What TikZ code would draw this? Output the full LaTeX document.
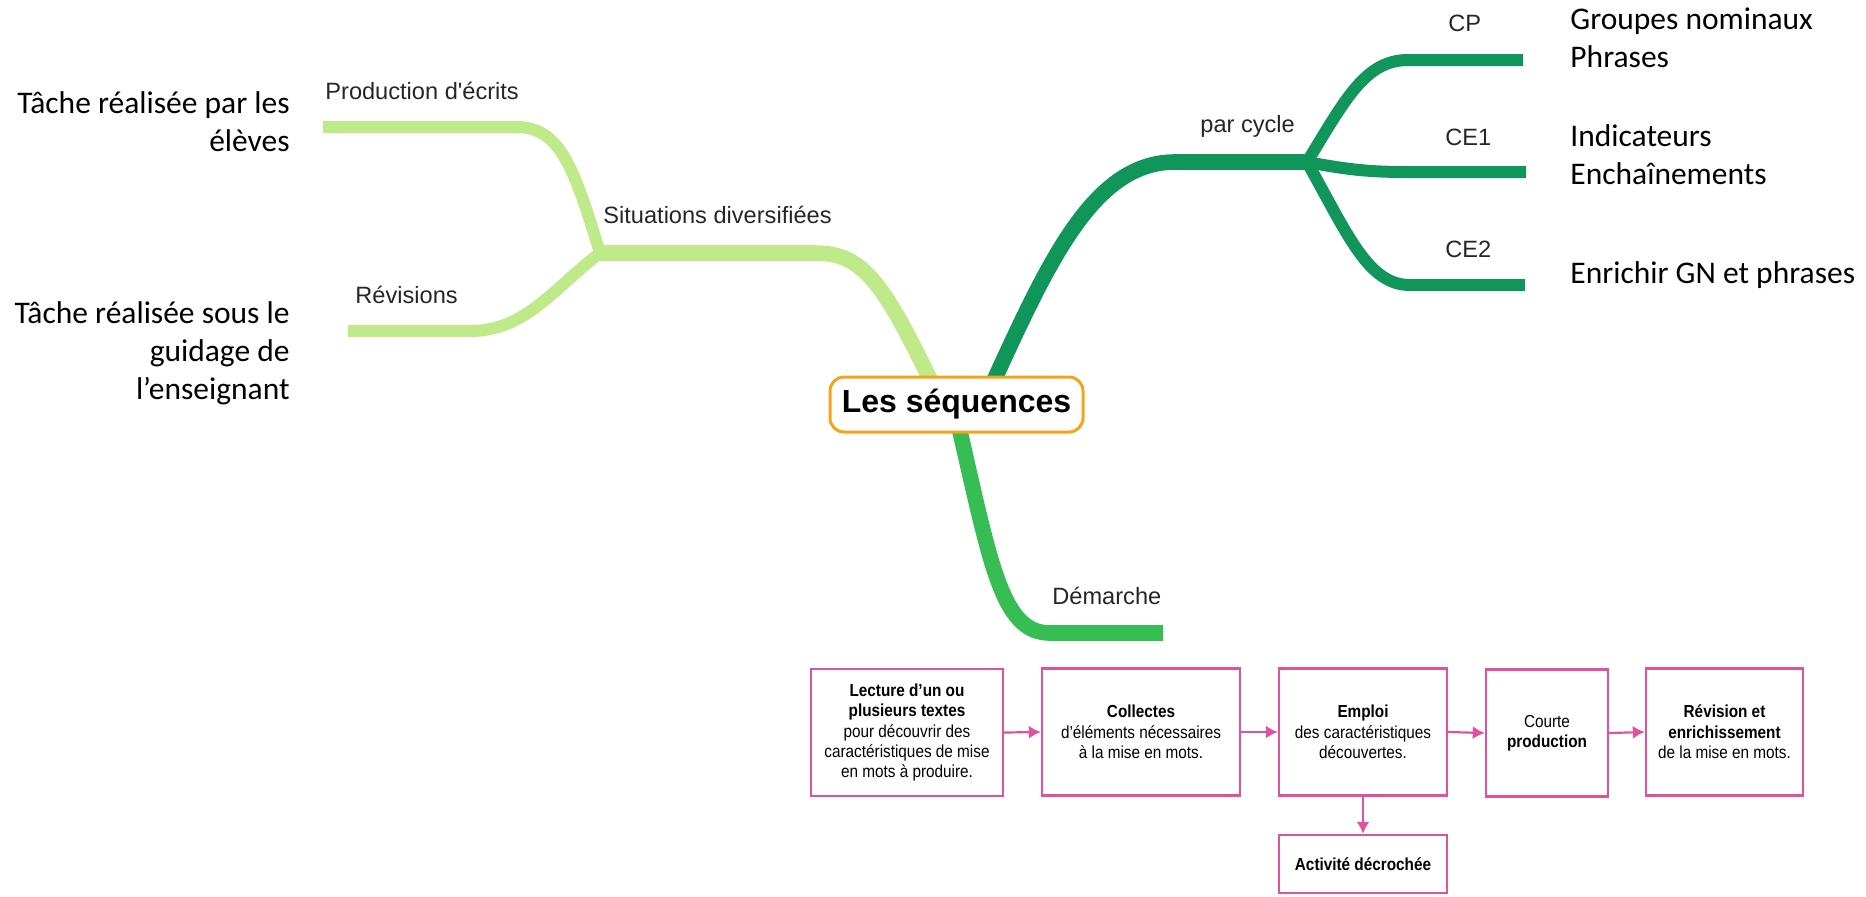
\documentclass[tikz,border=0pt]{standalone}
\usepackage{fontspec}
\setmainfont{Liberation Sans}
\newfontfamily\calib{Carlito}
\newfontfamily\narrowf[FakeStretch=0.88]{Liberation Sans}
\usetikzlibrary{calc,arrows.meta}
\definecolor{vertclair}{RGB}{192,233,138}
\definecolor{vertfonce}{RGB}{16,150,90}
\definecolor{vertmoyen}{RGB}{54,190,85}
\definecolor{orangebord}{RGB}{247,162,27}
\definecolor{rose}{RGB}{224,82,156}
\tikzset{
  branche/.style={line width=6pt},
  tronc/.style={line width=7.8pt},
  etiq/.style={font=\fontsize{11.8}{14}\selectfont,text=black!85,inner sep=0pt,anchor=base west},
  note/.style={font=\calib\fontsize{15.75}{19}\selectfont,inner sep=0pt},
  boite/.style={draw=rose,line width=1.2pt,minimum height=63.5pt,align=center,
    font=\narrowf\fontsize{8.7}{10.2}\selectfont,inner sep=0pt},
  fleche/.style={draw=rose,line width=1.1pt,-{Latex[length=6pt,width=6.5pt]}}
}

\begin{document}
\begin{tikzpicture}[x=0.5pt,y=-0.5pt]
              \useasboundingbox (0,0) rectangle (1866,896);
              % points of the mind map
              \coordinate (jsit) at (600,253);
              \coordinate (jcyc) at (1307,162);
              \coordinate (eprod) at (323,127);
              \coordinate (erev) at (348,331);
              \coordinate (ecp) at (1523,60);
              \coordinate (ece1) at (1526,172);
              \coordinate (ece2) at (1525,285);
              \coordinate (edem) at (1163,633);
              % branches
              \draw[tronc,vertclair] (940,400) .. controls (885,285) and (865,253) .. (815,253) -- (jsit);
              \draw[branche,vertclair] (jsit) .. controls (572,160) and (558,127) .. (515,127) -- (eprod);
              \draw[branche,vertclair] (jsit) .. controls (552,290) and (525,331) .. (470,331) -- (erev);
              \draw[tronc,vertfonce] (985,400) .. controls (1045,270) and (1090,162) .. (1175,162) -- (jcyc);
              \draw[branche,vertfonce] (jcyc) .. controls (1345,100) and (1365,60) .. (1408,60) -- (ecp);
              \draw[branche,vertfonce] (jcyc) .. controls (1350,170) and (1370,172) .. (1408,172) -- (ece1);
              \draw[branche,vertfonce] (jcyc) .. controls (1348,235) and (1368,285) .. (1410,285) -- (ece2);
              \draw[tronc,vertmoyen] (955,410) .. controls (990,560) and (1000,633) .. (1050,633) -- (edem);
              \node[draw=orangebord,line width=1.5pt,rounded corners=7pt,fill=white,
                minimum width=126.5pt,minimum height=27.5pt,inner sep=0pt,
                font=\bfseries\fontsize{16}{19}\selectfont](seq)at(956.5,404.5){Les séquences};
              % labels on the branches
              \node[etiq](lprod)at(325,99){Production d\textquotesingle écrits};
              \node[etiq](lrev)at(355,303){Révisions};
              \node[etiq](lsit)at(603,223){Situations diversifiées};
              \node[etiq](lcyc)at(1200,132){par cycle};
              \node[etiq](lcp)at(1448,31){CP};
              \node[etiq](lce1)at(1445,145){CE1};
              \node[etiq](lce2)at(1445,257){CE2};
              \node[etiq](ldem)at(1052,604){Démarche};
              % notes (base = last line)
              \node[note,anchor=base east,align=right](tprod)at(290,151){Tâche réalisée par les\\élèves};
              \node[note,anchor=base east,align=right](tguid)at(290,399){Tâche réalisée sous le\\guidage de\\l’enseignant};
              \node[note,anchor=base west,align=left](tcp)at(1570,67){Groupes nominaux\\Phrases};
              \node[note,anchor=base west,align=left](tce1)at(1570,184){Indicateurs\\Enchaînements};
              \node[note,anchor=base west,align=left](tce2)at(1570,283){Enrichir GN et phrases};
              % the steps
              \node[boite,minimum width=96pt](lect)at(907,732.5){\bfseries Lecture d’un ou\\\bfseries plusieurs textes\\pour découvrir des\\caractéristiques de mise\\en mots à produire.};
              \node[boite,minimum width=99pt](coll)at(1141,732){\bfseries Collectes\\d’éléments nécessaires\\à la mise en mots.};
              \node[boite,minimum width=84pt](empl)at(1363,732){\bfseries Emploi\\des caractéristiques\\découvertes.};
              \node[boite,minimum width=61pt](cour)at(1547,733){Courte\\\bfseries production};
              \node[boite,minimum width=78.5pt](revi)at(1724.5,732){\bfseries Révision et\\\bfseries enrichissement\\de la mise en mots.};
              \node[boite,minimum width=84pt,minimum height=29pt](acti)at(1363,864){\bfseries Activité décrochée};
              \draw[fleche](lect.east)--(coll.west);
              \draw[fleche](coll.east)--(empl.west);
              \draw[fleche](empl.east)--(cour.west);
              \draw[fleche](cour.east)--(revi.west);
              \draw[fleche](empl)--(acti);
            \end{tikzpicture}
\end{document}
